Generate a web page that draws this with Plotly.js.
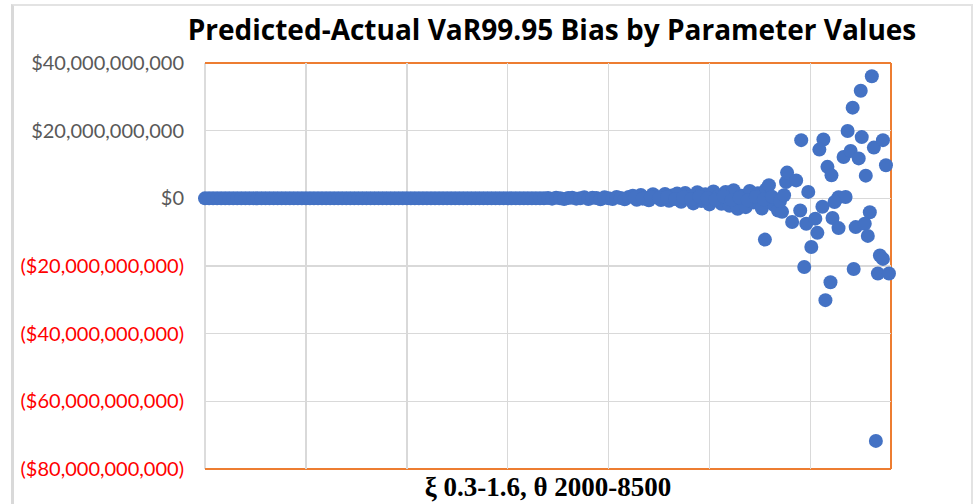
<!DOCTYPE html>
<html>
<head>
<meta charset="utf-8">
<script src="https://cdn.plot.ly/plotly-3.0.1.min.js"></script>
<style>
  body { margin: 0; background: #fff; }
  #frame { position: absolute; left: 11px; top: 4px; width: 957px; height: 510px;
           border-left: 3px solid #d9d9d9; border-top: 2px solid #e3e3e3; border-right: 2px solid #e3e3e3; }
  #plotArea { position: absolute; left: 0; top: 0; width: 977px; height: 504px; }
</style>
</head>
<body>
<div id="frame"></div>
<div id="plotArea"></div>
<script>
// parameter combination index (x) and bias in $ billions (y)
var flatX = [0, 4, 8, 12, 16, 20, 24, 28, 32, 36, 40, 44, 48, 52, 56, 60, 64, 68, 72, 76,
             80, 84, 88, 92, 96, 100, 104, 108, 112, 116, 120, 124, 128, 132, 136, 140, 144, 148,
             152, 156, 160, 164, 168, 172, 176, 180, 184, 188, 192, 196, 200, 204, 208, 212, 216,
             220, 224, 228, 232, 236, 240, 244, 248, 252, 256, 260, 264, 268, 272, 276, 280, 284,
             288, 292, 296, 300, 304, 308, 312, 316, 320, 324, 328, 332, 336];
var flatY = [0, 0, 0, 0, 0, 0, 0, 0, 0, 0, 0, 0, 0, 0, 0, 0, 0, 0, 0, 0,
             0, 0, 0, 0, 0, 0, 0, 0, 0, 0, 0, 0, 0, 0, 0, 0, 0, 0,
             0, 0, 0, 0, 0, 0, 0, 0, 0, 0, 0, 0, 0, 0, 0, 0, 0,
             0, 0, 0, 0, 0, 0, 0, 0, 0, 0, 0, 0, 0, 0, 0, 0, 0,
             0, 0, 0, 0, 0, 0, 0, 0, 0, 0, 0, 0, 0];

var rampX = [340, 344, 348, 352, 356, 360, 364, 368, 372, 376, 380, 384, 388, 392, 396, 400, 404,
             408, 412, 416, 420,
             424, 428, 432, 436, 440, 444, 448, 452, 456, 460, 464, 468,
             472, 476, 480, 484, 488, 492, 496, 500, 504, 508, 512, 516, 520,
             524, 528, 532, 536, 540, 544, 548, 552, 556, 559, 564, 568, 572, 576];
var rampY = [0.1, -0.1, 0.2, 0, -0.2, 0.1, 0.2, -0.1, 0, 0.3, -0.2, 0.2, 0.1, -0.3, 0.3, 0, -0.2,
             0.4, 0.1, -0.3, 0.4,
             0.8, -0.4, 1.0, 0.2, -0.6, 1.2, 0.4, -0.5, 1.3, -0.7, 0.9, 1.4,
             -1.0, 1.6, 0.3, -1.5, 1.8, -0.8, 1.2, -1.8, 2.0, 0.5, -1.6, 1.9, -2.2,
             2.4, -3.1, 0.8, -2.6, 2.2, -1.2, 1.5, -3.0, 2.6, 3.9, -2.0, -3.6, -4.0, 4.8];

// points close to zero inside the widening band
var midX = [426, 434, 442, 450, 458, 466, 474, 482, 490, 498, 506, 514, 522, 530, 538, 546, 554,
            562, 570, 574];
var midY = [0.2, -0.1, 0.3, 0, 0.4, -0.2, 0.3, -0.3, 0.5, 0, -0.4, 0.6, -0.5, 0.2, -0.6, 0.4, -0.3,
            0.5, -0.8, 0.9];

var tailX = [555, 577, 586, 591, 598, 590, 582, 596, 605, 612, 607, 601, 594, 620, 615,
             613, 609, 617, 621, 628, 635, 624, 622, 628, 637, 633, 640, 648, 642, 650, 661,
             651, 663, 672, 675, 655, 659, 645, 654, 657, 669, 672, 643, 667, 678, 665];
var tailY = [-12.2, 7.6, 5.3, 17.2, 1.9, -3.6, -7.0, -7.5, -6.0, -2.5, -10.2, -14.4, -20.3, -24.8, -30.1,
             17.4, 14.4, 9.3, 6.8, 0.3, 0.4, -1.1, -5.8, -8.8, 19.9, 12.2, 14.0, 11.8, 26.8, 31.8, 36.1,
             18.1, 15.0, 17.2, 9.8, 6.7, -4.1, -8.5, -7.5, -11.1, -16.9, -17.9, -20.9, -22.2, -22.2, -71.7];

var yTickVals = [40, 20, 0, -20, -40, -60, -80];
var yTickText = ["$40,000,000,000", "$20,000,000,000", "$0", "($20,000,000,000)",
                 "($40,000,000,000)", "($60,000,000,000)", "($80,000,000,000)"];

var xs = flatX.concat(rampX, midX, tailX);
var ys = flatY.concat(rampY, midY, tailY).map(function (v) { return v * 1e9; });

var trace = {
    x: xs,
    y: ys,
    type: "scatter",
    mode: "markers",
    cliponaxis: false,
    marker: {color: "#4472C4", size: 14},
    hoverinfo: "x+y"
};

var layout = {
    width: 977,
    height: 504,
    margin: {l: 205, r: 86, t: 63, b: 35},
    paper_bgcolor: "rgba(0,0,0,0)",
    plot_bgcolor: "#ffffff",
    showlegend: false,
    font: {family: "Lato, 'Open Sans', sans-serif"},
    title: {
        text: "<b>Predicted-Actual VaR99.95 Bias by Parameter Values</b>",
        font: {family: "'Open Sans', Lato, sans-serif", size: 28, color: "#000000"},
        xref: "container", x: 0.565, xanchor: "center",
        yref: "container", y: 0.94, yanchor: "middle"
    },
    xaxis: {
        range: [0, 680],
        dtick: 100,
        tick0: 0,
        showticklabels: false,
        ticks: "",
        showgrid: true,
        gridcolor: "#d9d9d9",
        gridwidth: 1.5,
        zeroline: false,
        showline: false,
        title: {
            text: "<b>ξ 0.3-1.6, θ 2000-8500</b>",
            font: {family: "'Liberation Serif', 'Times New Roman', serif", size: 27, color: "#000000"},
            standoff: 8
        }
    },
    yaxis: {
        range: [-80e9, 40e9],
        tickvals: yTickVals.map(function (v) { return v * 1e9; }),
        ticktext: yTickText.map(function (t, i) {
            return yTickVals[i] < 0 ? '<span style="color:#ff0000">' + t + '</span>' : t;
        }),
        tickfont: {family: "Lato, 'Open Sans', sans-serif", size: 20, color: "#595959"},
        ticks: "",
        ticklabelstandoff: 20,
        showgrid: true,
        gridcolor: "#d9d9d9",
        gridwidth: 1.5,
        zeroline: false,
        showline: false
    },
    shapes: [
        {type: "line", xref: "paper", yref: "paper", x0: 0, x1: 0, y0: 0, y1: 1, layer: "below",
         line: {color: "#d0d0d0", width: 1.5}},
        {type: "line", xref: "paper", yref: "paper", x0: 0, x1: 1, y0: 1, y1: 1, layer: "below",
         line: {color: "#ED7D31", width: 2}},
        {type: "line", xref: "paper", yref: "paper", x0: 1, x1: 1, y0: 0, y1: 1, layer: "below",
         line: {color: "#ED7D31", width: 2}},
        {type: "line", xref: "paper", yref: "paper", x0: 0, x1: 1, y0: 0, y1: 0, layer: "below",
         line: {color: "#ED7D31", width: 2}}
    ]
};

Plotly.newPlot("plotArea", [trace], layout, {displayModeBar: false, staticPlot: true});
</script>
</body>
</html>
